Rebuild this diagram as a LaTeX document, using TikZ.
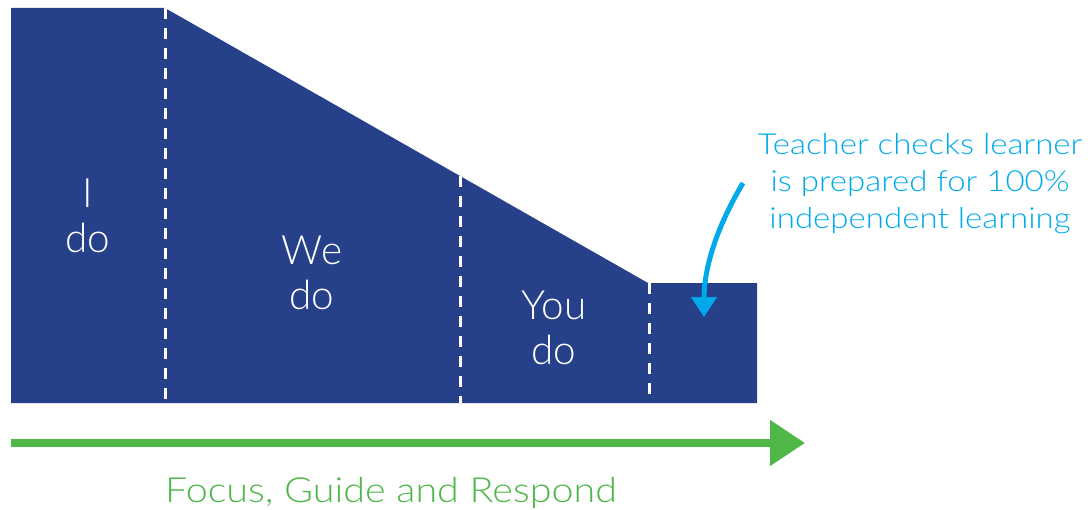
\documentclass[tikz,border=0pt]{standalone}
\usepackage{fontspec}
\setmainfont{Lato}[UprightFont=* Light]
\newfontfamily\widelight{Lato}[UprightFont=* Light,FakeStretch=1.14]
\usetikzlibrary{arrows.meta}
\definecolor{stepnavy}{RGB}{38,64,137}
\definecolor{notecyan}{RGB}{0,170,234}
\definecolor{flowgreen}{RGB}{78,183,72}

\begin{document}
\begin{tikzpicture}[x=0.02cm,y=-0.02cm,
  divider/.style={draw=white,line width=3*0.02cm,dash pattern=on 11*0.02cm off 9*0.02cm},
  phase/.style={text=white,align=center,font=\fontsize{23}{25.5}\selectfont,inner sep=0pt},
  note/.style={text=notecyan,align=center,font=\widelight\fontsize{16.5}{21}\selectfont,inner sep=0pt}]
  \useasboundingbox (0,0) rectangle (1088,510);
  % staircase of support
  \coordinate (tl) at (11,8);
  \coordinate (s1) at (165,8);
  \coordinate (s2) at (460,176);
  \coordinate (s3) at (648,283);
  \coordinate (tr) at (757,283);
  \coordinate (br) at (757,403);
  \coordinate (bl) at (11,403);
  \fill[stepnavy] (tl) -- (s1) -- (s3) -- (tr) -- (br) -- (bl) -- cycle;
  \draw[divider] (s1) -- (s1 |- bl);
  \draw[divider] (s2) -- (s2 |- bl);
  \draw[divider] ([xshift=1*0.02cm]s3) -- ([xshift=1*0.02cm]s3 |- bl);
  \node[phase] (ido) at (88,215.5) {I\\do};
  \node[phase] (wedo) at (312,273) {We\\do};
  \node[phase] (youdo) at (554,327.5) {You\\do};
  % teacher check
  \node[note] (check) at (920,183.5) {Teacher checks learner\\is prepared for 100\%\\independent learning};
  \coordinate (cfrom) at (743,183);
  \coordinate (cto) at (704,317);
  \draw[notecyan,line width=5*0.02cm,-{Triangle[length=20*0.02cm,width=25*0.02cm]}]
    (cfrom) .. controls (715,230) and (704,270) .. (cto);
  % timeline
  \coordinate (gstart) at (11,443);
  \coordinate (gend) at (805,443);
  \draw[flowgreen,line width=8*0.02cm,-{Triangle[length=35*0.02cm,width=44*0.02cm]}] (gstart) -- (gend);
  \node[text=flowgreen,anchor=base,font=\widelight\fontsize{19.7}{24}\selectfont,inner sep=0pt] (fgr) at (391,502) {Focus, Guide and Respond};
\end{tikzpicture}
\end{document}
